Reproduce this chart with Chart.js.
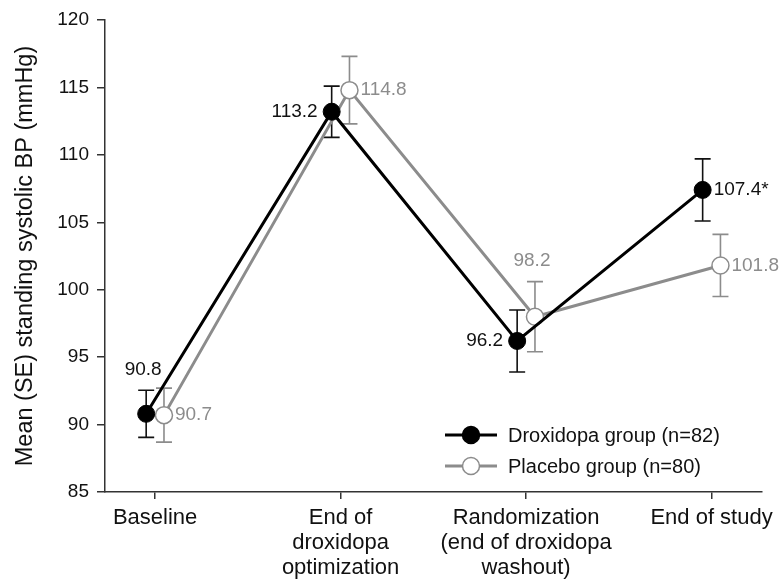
<!DOCTYPE html>
<html>
<head>
<meta charset="utf-8">
<script src="https://cdn.jsdelivr.net/npm/chart.js@4.4.1/dist/chart.umd.min.js"></script>
<style>
  html, body { margin: 0; padding: 0; background: #fff; }
  #wrap { width: 780px; height: 580px; }
</style>
</head>
<body>
<div id="wrap"><canvas id="myChart"></canvas></div>
<script>
// timepoints
const categories = [
    'Baseline',
    ['End of', 'droxidopa', 'optimization'],
    ['Randomization', '(end of droxidopa', 'washout)'],
    'End of study'
];

// mean standing systolic BP and SE per group
const droxMean = [90.8, 113.2, 96.2, 107.4];
const droxSE = [1.75, 1.9, 2.3, 2.3];
const placeboMean = [90.7, 114.8, 98.0, 101.8];
const placeboSE = [2.0, 2.5, 2.6, 2.3];

const droxLabels = ['90.8', '113.2', '96.2', '107.4*'];
const placeboLabels = ['90.7', '114.8', '98.2', '101.8'];

const yTicks = [85, 90, 95, 100, 105, 110, 115, 120];

const FONT = "'Liberation Sans', Arial, Helvetica, sans-serif";
const BLACK = '#000000';
const GREY = '#8c8c8c';

// where each value label sits relative to its point
const droxLabelPos = ['top', 'left', 'left', 'right'];
const placeboLabelPos = ['right', 'right', 'top', 'right'];

const errorBars = {
    id: 'errorBars',
    beforeDatasetsDraw(chart) {
        const ctx = chart.ctx;
        const xs = chart.scales.x, ys = chart.scales.y;
        chart.data.datasets.forEach((ds) => {
            ctx.save();
            ctx.strokeStyle = ds.errColor;
            ctx.lineWidth = 1.6;
            ds.data.forEach((p, i) => {
                const px = xs.getPixelForValue(p.x);
                const top = ys.getPixelForValue(p.y + ds.se[i]);
                const bot = ys.getPixelForValue(p.y - ds.se[i]);
                ctx.beginPath();
                ctx.moveTo(px, top); ctx.lineTo(px, bot);
                ctx.moveTo(px - 8, top); ctx.lineTo(px + 8, top);
                ctx.moveTo(px - 8, bot); ctx.lineTo(px + 8, bot);
                ctx.stroke();
            });
            ctx.restore();
        });
    },
    afterDatasetsDraw(chart) {
        const ctx = chart.ctx;
        const xs = chart.scales.x, ys = chart.scales.y;
        chart.data.datasets.forEach((ds) => {
            ctx.save();
            ctx.font = '19px ' + FONT;
            ctx.fillStyle = ds.errColor;
            ds.data.forEach((p, i) => {
                const px = xs.getPixelForValue(p.x);
                const py = ys.getPixelForValue(p.y);
                const pos = ds.labelPos[i];
                const txt = ds.valueLabels[i];
                if (pos === 'left') {
                    ctx.textAlign = 'right'; ctx.textBaseline = 'middle';
                    ctx.fillText(txt, px - 14, py);
                } else if (pos === 'right') {
                    ctx.textAlign = 'left'; ctx.textBaseline = 'middle';
                    ctx.fillText(txt, px + 11, py);
                } else {
                    const top = ys.getPixelForValue(p.y + ds.se[i]);
                    ctx.textAlign = 'center'; ctx.textBaseline = 'bottom';
                    ctx.fillText(txt, px - 3, top - 11);
                }
            });
            ctx.restore();
        });

        // legend inside the plot, lower right
        ctx.save();
        ctx.font = '20px ' + FONT;
        ctx.textAlign = 'left';
        ctx.textBaseline = 'middle';
        chart.data.datasets.forEach((ds, k) => {
            const ly = 435 + k * 31;
            ctx.strokeStyle = ds.borderColor;
            ctx.lineWidth = 3;
            ctx.beginPath();
            ctx.moveTo(445, ly); ctx.lineTo(497, ly);
            ctx.stroke();
            ctx.beginPath();
            ctx.arc(471, ly, 8.5, 0, Math.PI * 2);
            ctx.fillStyle = ds.pointBackgroundColor;
            ctx.fill();
            ctx.lineWidth = 1.5;
            ctx.strokeStyle = ds.pointBorderColor;
            ctx.stroke();
            ctx.fillStyle = '#111';
            ctx.fillText(ds.label, 508, ly + 1);
        });
        ctx.restore();
    }
};

const ctx = document.getElementById('myChart').getContext('2d');

const myChart = new Chart(ctx, {
    type: 'line',
    data: {
        datasets: [{
            label: 'Droxidopa group (n=82)',
            data: droxMean.map((v, i) => ({ x: i - 0.048, y: v })),
            se: droxSE,
            valueLabels: droxLabels,
            labelPos: droxLabelPos,
            errColor: '#111',
            borderColor: BLACK,
            borderWidth: 3,
            pointRadius: 8.5,
            pointHoverRadius: 8.5,
            pointBackgroundColor: BLACK,
            pointBorderColor: BLACK,
            pointBorderWidth: 1,
            tension: 0
        }, {
            label: 'Placebo group (n=80)',
            data: placeboMean.map((v, i) => ({ x: i + 0.048, y: v })),
            se: placeboSE,
            valueLabels: placeboLabels,
            labelPos: placeboLabelPos,
            errColor: GREY,
            borderColor: GREY,
            borderWidth: 3,
            pointRadius: 8.5,
            pointHoverRadius: 8.5,
            pointBackgroundColor: '#ffffff',
            pointBorderColor: GREY,
            pointBorderWidth: 1.5,
            tension: 0
        }]
    },
    options: {
        animation: false,
        responsive: true,
        maintainAspectRatio: false,
        layout: { padding: { top: 20, right: 17, left: 0, bottom: 0 } },
        plugins: {
            legend: { display: false },
            tooltip: { enabled: false }
        },
        scales: {
            x: {
                type: 'linear',
                min: -0.27,
                max: 3.27,
                afterBuildTicks: (s) => { s.ticks = categories.map((c, i) => ({ value: i })); },
                afterFit: (s) => { s.height = 88; },
                grid: { drawOnChartArea: false, drawTicks: true, tickLength: 7, color: '#333', lineWidth: 1.5 },
                border: { display: true, color: '#333', width: 1.5 },
                ticks: {
                    autoSkip: false,
                    maxRotation: 0,
                    padding: 6,
                    color: '#111',
                    font: { family: FONT, size: 22, lineHeight: 1.15 },
                    callback: (v) => categories[v]
                }
            },
            y: {
                min: 85,
                max: 120,
                afterBuildTicks: (s) => { s.ticks = yTicks.map((v) => ({ value: v })); },
                afterFit: (s) => { s.width = 105; },
                grid: { drawOnChartArea: false, drawTicks: true, tickLength: 8, color: '#333', lineWidth: 1.5 },
                border: { display: true, color: '#333', width: 1.5 },
                ticks: {
                    padding: 8,
                    color: '#111',
                    font: { family: FONT, size: 19 }
                },
                title: {
                    display: true,
                    text: 'Mean (SE) standing systolic BP (mmHg)',
                    color: '#111',
                    font: { family: FONT, size: 23.5 },
                    padding: { top: 11, bottom: 0 }
                }
            }
        }
    },
    plugins: [errorBars]
});
</script>
</body>
</html>
